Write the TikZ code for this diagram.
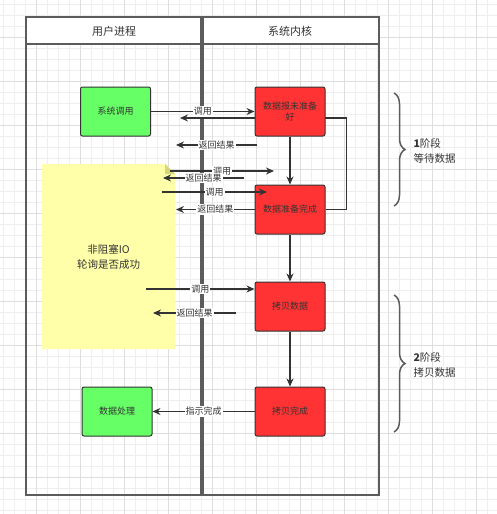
\documentclass[tikz,border=0pt]{standalone}
\usepackage{fontspec}
\setmainfont{Noto Sans CJK SC}
\usetikzlibrary{positioning}
\usetikzlibrary{arrows.meta}
\usetikzlibrary{decorations.pathreplacing}
\definecolor{boxred}{HTML}{FF3333}
\definecolor{boxgreen}{HTML}{66FF66}
\definecolor{noteyellow}{HTML}{FFFFAA}
\definecolor{notefold}{HTML}{D6D67A}
\definecolor{ink}{HTML}{333333}
\definecolor{poolgray}{HTML}{5C5C5C}
\definecolor{gridminor}{HTML}{EEEEEE}
\definecolor{gridmajor}{HTML}{DEDEDE}
\tikzset{
  proc/.style={draw=ink,line width=1pt,rounded corners=2pt,minimum width=70pt,minimum height=49pt,align=center,font=\fontsize{9}{11}\selectfont,text=ink},
  kernel/.style={proc,fill=boxred},
  user/.style={proc,fill=boxgreen},
  flow/.style={draw=ink,line width=1.5pt,-{Stealth[length=8pt,width=7pt]}},
  lbl/.style={fill=white,inner sep=1pt,font=\fontsize{9}{10}\selectfont,text=ink},
  phase/.style={draw=poolgray,line width=1.5pt,decorate,decoration={brace,amplitude=11pt}}
}

\begin{document}
\begin{tikzpicture}[x=1pt,y=-1pt]
		\useasboundingbox (0,0) rectangle (497,514);
		\foreach \x in {3.3,14.3,...,497} {\draw[gridminor,line width=0.8pt] (\x,0) -- (\x,514);}
		\foreach \y in {4,15,...,514} {\draw[gridminor,line width=0.8pt] (0,\y) -- (497,\y);}
		\foreach \x in {36.3,80.3,...,497} {\draw[gridmajor,line width=0.8pt] (\x,0) -- (\x,514);}
		\foreach \y in {37,81,...,514} {\draw[gridmajor,line width=0.8pt] (0,\y) -- (497,\y);}
		\fill[white] (26,17) rectangle (379,44);
		\draw[poolgray,line width=3.5pt] (202,17) -- (202,495);
		\draw[poolgray,line width=2pt] (26,17) rectangle (379,495) (26,44) -- (379,44);
		\node[font=\fontsize{11}{13}\selectfont,text=ink] (userlane) at (114,31) {用户进程};
		\node[font=\fontsize{11}{13}\selectfont,text=ink] (kernellane) at (290,31) {系统内核};
		\fill[noteyellow] (42,164) -- (165,164) -- (175,174) -- (175,349) -- (42,349) -- cycle;
		\fill[notefold] (165,164) -- (165,174) -- (175,174) -- cycle;
		\node[font=\fontsize{10.5}{15}\selectfont,align=center,text=ink] (poll) at (108.5,257.5) {非阻塞IO\\轮询是否成功};
		\node[user] (syscall) at (115.5,111.5) {系统调用};
		\node[kernel] (ready) at (290,209.5) {数据准备完成};
		\coordinate (loopend) at (180,118);
		\draw[flow] (ready.east) -- ++(21,0) |- (loopend);
		\node[kernel] (notready) at (290,111.5) {数据报未准备\\好};
		\node[kernel] (copy) at (290,306.5) {拷贝数据};
		\node[kernel] (copied) at (290,411.5) {拷贝完成};
		\node[user] (handle) at (117,411.5) {数据处理};
		\draw[flow] (notready) -- (ready);
		\draw[flow] (ready) -- (copy);
		\draw[flow] (copy) -- (copied);
		\draw[flow] (syscall) -- node[lbl]{调用} (notready);
		\draw[flow] (copied) -- node[lbl]{指示完成} (handle);
		\foreach \n/\a/\b/\y/\t in {r1/257/176/145/返回结果, c2/170/274/171/调用, r2/244/163/178/返回结果, c3/162/267/192/调用, r4/236/153/313/返回结果}
		{\coordinate (\n-s) at (\a,\y); \coordinate (\n-e) at (\b,\y);
		 \draw[flow] (\n-s) -- node[lbl]{\t} (\n-e);}
		\coordinate (r3-e) at (176,209.5);
		\draw[flow] (ready.west) -- node[lbl]{返回结果} (r3-e);
		\coordinate (c4-s) at (146,289);
		\draw[flow] (c4-s) -- node[lbl]{调用} (c4-s -| copy.west);
		\draw[phase] (394,93) -- (394,206);
		\draw[phase] (394,295) -- (394,432);
		\node[anchor=west,align=left,font=\fontsize{10.5}{15}\selectfont,text=ink] (phase1) at (410,150.5) {\textbf{1}阶段\\等待数据};
		\node[anchor=west,align=left,font=\fontsize{10.5}{15}\selectfont,text=ink] (phase2) at (410,364.5) {\textbf{2}阶段\\拷贝数据};
	   \end{tikzpicture}
\end{document}
